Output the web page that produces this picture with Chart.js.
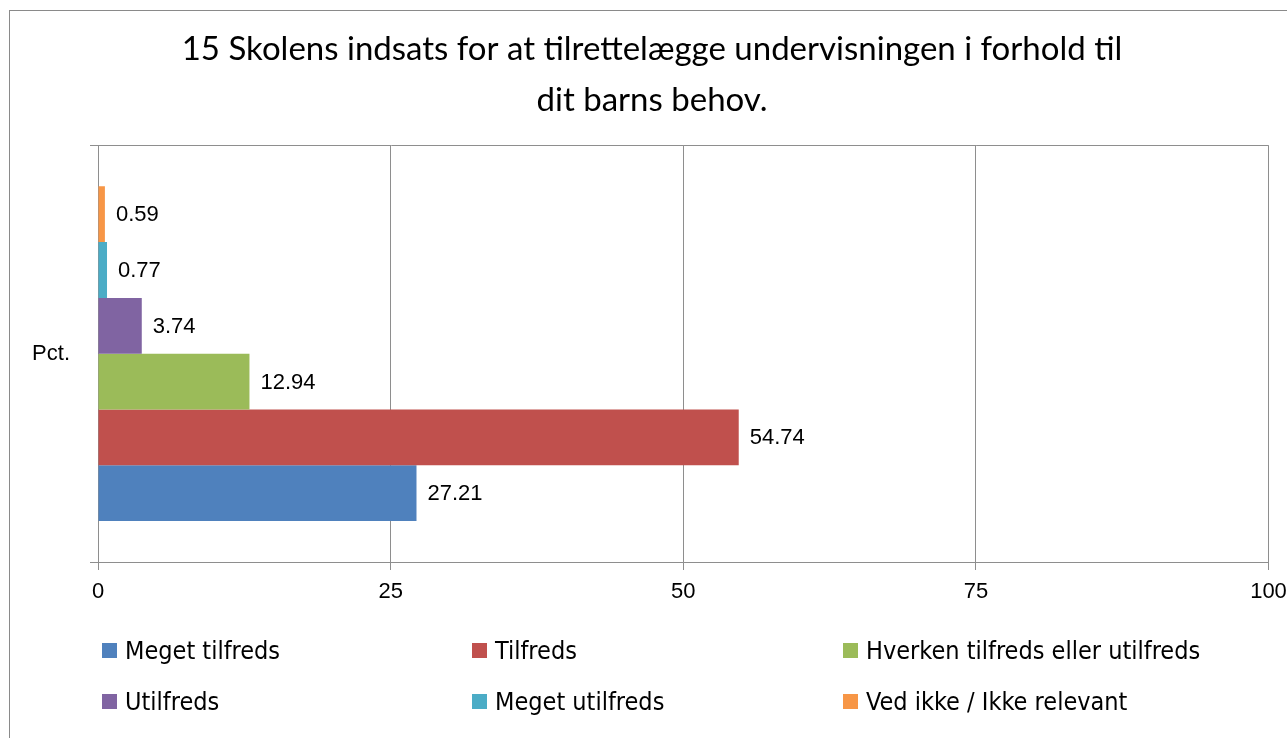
<!DOCTYPE html>
<html>
<head>
<meta charset="utf-8">
<script src="https://cdn.jsdelivr.net/npm/chart.js@4.4.1/dist/chart.umd.min.js"></script>
<style>
  html, body { margin: 0; padding: 0; background: #fff; overflow: hidden; }
  #wrap { position: relative; width: 1287px; height: 738px; }
  #chart { position: absolute; left: 0; top: 0; }
  #frame { position: absolute; left: 9px; top: 10px; width: 1400px; height: 800px; border: 1px solid #8a8a8a; pointer-events: none; }
  .leg { position: absolute; display: flex; align-items: center; height: 30px; font-family: "DejaVu Sans Condensed", "DejaVu Sans", sans-serif; font-size: 25px; color: #000; white-space: nowrap; }
  .leg i { display: inline-block; width: 15px; height: 15px; margin-right: 8px; }
</style>
</head>
<body>
<div id="wrap">
  <canvas id="chart" width="1287" height="738"></canvas>
  <div id="legend"></div>
  <div id="frame"></div>
</div>
<script>
const titleLines = ['15 Skolens indsats for at tilrettelægge undervisningen i forhold til', 'dit barns behov.'];
const categories = ['Pct.'];
const seriesNames = ['Meget tilfreds', 'Tilfreds', 'Hverken tilfreds eller utilfreds', 'Utilfreds', 'Meget utilfreds', 'Ved ikke / Ikke relevant'];
const seriesValues = [27.21, 54.74, 12.94, 3.74, 0.77, 0.59];
const seriesColors = ['#4F81BD', '#C0504D', '#9BBB59', '#8064A2', '#4BACC6', '#F79646'];
const xTicks = [0, 25, 50, 75, 100];

const gridColor = '#8e8e8e';
const labelFont = { family: '"Liberation Sans", Arial, sans-serif', size: 22 };

// first series sits at the bottom of the group, so feed them in reverse
const datasets = seriesNames.map((name, i) => ({
  label: name,
  data: [seriesValues[i]],
  backgroundColor: seriesColors[i],
  borderWidth: 0,
})).reverse();

const valueLabels = {
  id: 'valueLabels',
  afterDatasetsDraw(chart) {
    const ctx = chart.ctx;
    ctx.save();
    ctx.font = `${labelFont.size}px ${labelFont.family}`;
    ctx.fillStyle = '#000';
    ctx.textAlign = 'left';
    ctx.textBaseline = 'middle';
    chart.data.datasets.forEach((ds, di) => {
      chart.getDatasetMeta(di).data.forEach((bar, j) => {
        ctx.fillText(ds.data[j].toFixed(2), bar.x + 11, bar.y + 1);
      });
    });
    ctx.restore();
  },
};

new Chart(document.getElementById('chart'), {
  type: 'bar',
  data: { labels: categories, datasets },
  plugins: [valueLabels],
  options: {
    indexAxis: 'y',
    responsive: false,
    animation: false,
    devicePixelRatio: 1,
    categoryPercentage: 0.803,
    barPercentage: 1,
    layout: { padding: { top: 24, left: 17, right: 0, bottom: 126 } },
    plugins: {
      legend: { display: false },
      tooltip: { enabled: false },
      title: {
        display: true,
        text: titleLines,
        color: '#000',
        font: { family: 'Lato, "Open Sans", sans-serif', size: 33, weight: 'normal', lineHeight: 1.55 },
        padding: { top: 0, bottom: 19 },
      },
    },
    scales: {
      x: {
        min: 0,
        max: 100,
        afterBuildTicks: (scale) => { scale.ticks = xTicks.map((v) => ({ value: v })); },
        afterFit: (scale) => { scale.height = 50; scale.paddingRight = 18.5; },
        grid: { color: gridColor, tickLength: 8, lineWidth: 1 },
        border: { color: gridColor },
        ticks: { color: '#000', font: labelFont, padding: 9 },
      },
      y: {
        afterFit: (scale) => { scale.width = 81; },
        grid: { color: gridColor, tickLength: 8, offset: true },
        border: { color: gridColor },
        ticks: { color: '#000', font: labelFont, padding: 20 },
      },
    },
  },
});

// legend in three columns like the original
const legend = document.getElementById('legend');
const legCols = [102, 472, 843];
const legRows = [650, 701];
seriesNames.forEach((name, i) => {
  const el = document.createElement('div');
  el.className = 'leg';
  el.style.left = legCols[i % 3] + 'px';
  el.style.top = (legRows[Math.floor(i / 3)] - 15) + 'px';
  el.innerHTML = `<i style="background:${seriesColors[i]}"></i>${name}`;
  legend.appendChild(el);
});
</script>
</body>
</html>
